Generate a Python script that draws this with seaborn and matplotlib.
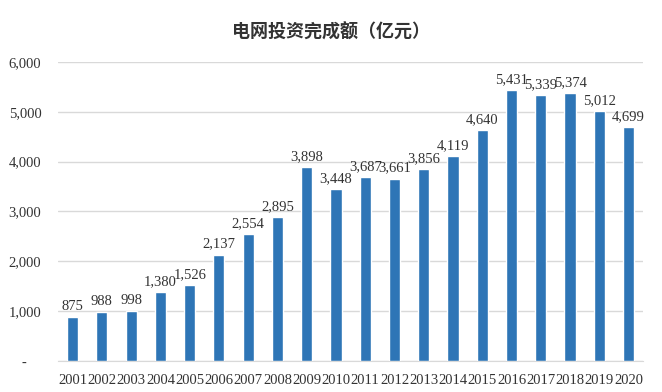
import numpy as np
import pandas as pd
import matplotlib
matplotlib.use('Agg')
import matplotlib.pyplot as plt
import seaborn as sns

# data
years = [str(y) for y in range(2001, 2021)]
values = [875, 988, 998, 1380, 1526, 2137, 2554, 2895, 3898, 3448,
          3687, 3661, 3856, 4119, 4640, 5431, 5339, 5374, 5012, 4699]
yticks = [0, 1000, 2000, 3000, 4000, 5000, 6000]
ytick_labels = ['-    ', '1,000', '2,000', '3,000', '4,000', '5,000', '6,000']
title = '电网投资完成额（亿元）'

df = pd.DataFrame({'year': years, 'value': values})

sns.set_style('white')
plt.rcParams['font.family'] = ['Liberation Serif', 'Noto Sans CJK SC']

fig = plt.figure(figsize=(6.62, 3.92), dpi=100)
ax = fig.add_axes([0.0876, 0.079, 0.884, 0.763])

sns.barplot(data=df, x='year', y='value', color='#2E75B6', width=0.38,
            saturation=1, ax=ax, zorder=3)

ax.set_ylim(0, 6000)
ax.set_xlim(-0.5, len(years) - 0.5)
ax.set_yticks(yticks)
ax.set_yticklabels(ytick_labels, family='Liberation Serif')
ax.set_xticks(range(len(years)))
ax.set_xticklabels(years, family='Liberation Serif')
ax.yaxis.grid(True, color='#D9D9D9', linewidth=1, zorder=0)
ax.tick_params(axis='both', length=0, labelsize=10.5, labelcolor='#333333')
ax.tick_params(axis='y', pad=12)
ax.tick_params(axis='x', pad=9)
for s in ['top', 'right', 'left']:
    ax.spines[s].set_visible(False)
ax.spines['bottom'].set_color('#D9D9D9')
ax.set_xlabel('')
ax.set_ylabel('')

for i, v in enumerate(values):
    ax.text(i, v + 80, f'{v:,}', ha='center', va='bottom', fontsize=10.5,
            color='#333333')

fig.text(0.5, 0.918, title, ha='center', va='center', fontsize=13,
         fontweight='bold', family=['Noto Sans CJK SC'], color='#333333')

fig.savefig('out.png', dpi=100, facecolor='white')
